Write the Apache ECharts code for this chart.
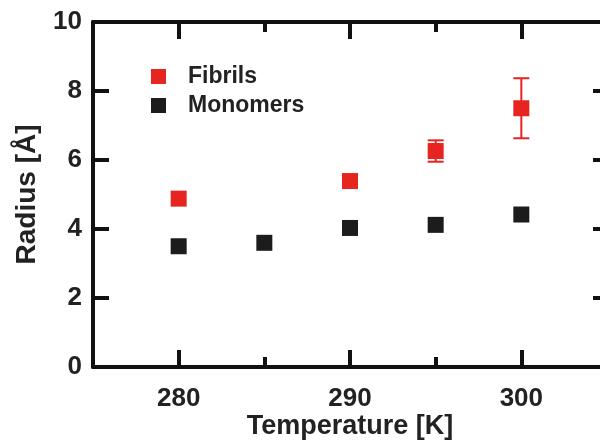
<!DOCTYPE html>
<html>
<head>
<meta charset="utf-8">
<script src="https://cdn.jsdelivr.net/npm/echarts@6/dist/echarts.min.js"></script>
<style>
  html, body { margin: 0; padding: 0; background: #fff; }
  #chart { width: 600px; height: 441px; }
</style>
</head>
<body>
<div id="chart"></div>
<script>
// temperatures [K]
var tempsFibrils = [280, 290, 295, 300];
var radiusFibrils = [4.88, 5.39, 6.26, 7.5];
var tempsMonomers = [280, 285, 290, 295, 300];
var radiusMonomers = [3.5, 3.6, 4.03, 4.12, 4.42];
// error bars for fibrils: [T, low, high]
var errFibrils = [[295, 5.95, 6.57], [300, 6.63, 8.37]];
var majorTicks = [280, 290, 300];
var minorTicks = [285, 295];

var red = '#e62420';
var black = '#1c1c1c';
var font = 'Liberation Sans, Arial, sans-serif';

function pairs(xs, ys) {
  var out = [];
  for (var i = 0; i < xs.length; i++) out.push([xs[i], ys[i]]);
  return out;
}

function xAxisDef(pos, ticks, len, showLabel, showLine, name) {
  return {
    type: 'value', position: pos, min: 275, max: 305,
    name: name || '', nameLocation: 'middle', nameGap: 46, nameMoveOverlap: false,
    nameTextStyle: { fontFamily: font, fontWeight: 'bold', fontSize: 27, color: '#222' },
    axisLine: { show: showLine, onZero: false, lineStyle: { color: '#111', width: 4 } },
    axisTick: { show: true, inside: true, length: len, customValues: ticks, lineStyle: { color: '#111', width: 4 } },
    axisLabel: { show: showLabel, customValues: ticks, margin: 19, fontFamily: font, fontWeight: 'bold', fontSize: 26, color: '#222' },
    splitLine: { show: false }
  };
}

var chart = echarts.init(document.getElementById('chart'));
chart.setOption({
  animation: false,
  grid: { left: 93, right: -7, top: 22, bottom: 74, containLabel: false, outerBoundsMode: 'none' },
  legend: {
    data: ['Fibrils', 'Monomers'],
    orient: 'vertical', left: 146, top: 60,
    icon: 'rect', itemWidth: 15, itemHeight: 15, itemGap: 6,
    textStyle: { fontFamily: font, fontWeight: 'bold', fontSize: 23, color: '#222', padding: [0, 0, 0, 17] }
  },
  xAxis: [
    xAxisDef('bottom', majorTicks, 17, true, true, 'Temperature [K]'),
    xAxisDef('bottom', minorTicks, 10, false, false),
    xAxisDef('top', majorTicks, 17, false, true),
    xAxisDef('top', minorTicks, 10, false, false)
  ],
  yAxis: [
    {
      type: 'value', position: 'left', min: 0, max: 10, interval: 2,
      name: 'Radius [Å]', nameLocation: 'middle', nameGap: 52, nameMoveOverlap: false,
      nameTextStyle: { fontFamily: font, fontWeight: 'bold', fontSize: 28, color: '#222' },
      axisLine: { show: true, lineStyle: { color: '#111', width: 4 } },
      axisTick: { show: true, inside: true, length: 16, lineStyle: { color: '#111', width: 4 } },
      axisLabel: { margin: 11, fontFamily: font, fontWeight: 'bold', fontSize: 26, color: '#222' },
      splitLine: { show: false }
    },
    {
      type: 'value', position: 'right', min: 0, max: 10, interval: 2,
      axisLine: { show: true, lineStyle: { color: '#111', width: 4 } },
      axisTick: { show: true, inside: true, length: 14, lineStyle: { color: '#111', width: 4 } },
      axisLabel: { show: false },
      splitLine: { show: false }
    }
  ],
  series: [
    {
      name: 'FibrilsErr', type: 'custom', z: 1,
      data: errFibrils,
      renderItem: function (params, api) {
        var x = api.value(0);
        var lo = api.coord([x, api.value(1)]);
        var hi = api.coord([x, api.value(2)]);
        var w = 8;
        var style = { stroke: red, lineWidth: 2 };
        return {
          type: 'group',
          children: [
            { type: 'line', shape: { x1: lo[0], y1: lo[1], x2: hi[0], y2: hi[1] }, style: style },
            { type: 'line', shape: { x1: lo[0] - w, y1: lo[1], x2: lo[0] + w, y2: lo[1] }, style: style },
            { type: 'line', shape: { x1: hi[0] - w, y1: hi[1], x2: hi[0] + w, y2: hi[1] }, style: style }
          ]
        };
      }
    },
    {
      name: 'Fibrils', type: 'scatter', z: 3,
      symbol: 'rect', symbolSize: 16,
      itemStyle: { color: red, opacity: 1 },
      data: pairs(tempsFibrils, radiusFibrils)
    },
    {
      name: 'Monomers', type: 'scatter', z: 3,
      symbol: 'rect', symbolSize: 16,
      itemStyle: { color: black, opacity: 1 },
      data: pairs(tempsMonomers, radiusMonomers)
    }
  ]
});
</script>
</body>
</html>
